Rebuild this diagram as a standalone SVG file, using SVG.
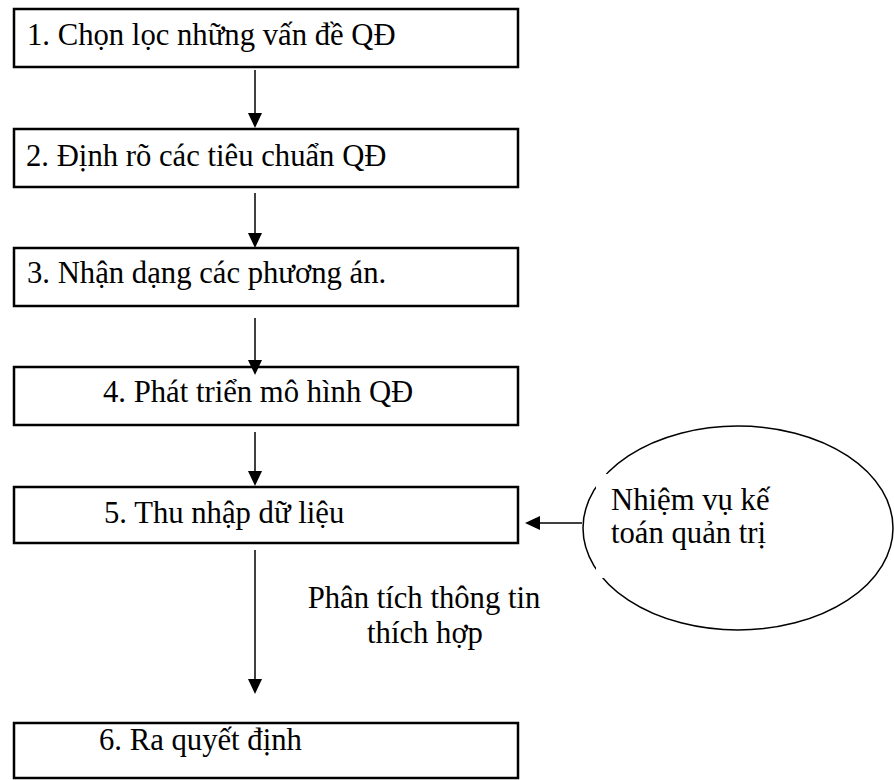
<svg xmlns="http://www.w3.org/2000/svg" width="894" height="780" viewBox="0 0 894 780">
<style>
.box{fill:#fff;stroke:#000;stroke-width:2.5}
.t{font-family:"Liberation Serif","Times New Roman",serif;font-size:30.7px;fill:#000}
.ln{stroke:#000;stroke-width:1.5;fill:none}
.ah{fill:#000}
</style>
<rect width="894" height="780" fill="#fff"/>
<g id="n1"><rect class="box" x="14" y="9" width="504" height="58"/><text class="t" x="27" y="45">1. Chọn lọc những vấn đề QĐ</text></g>
<g id="n2"><rect class="box" x="14" y="129" width="504" height="58"/><text class="t" x="26" y="166">2. Định rõ các tiêu chuẩn QĐ</text></g>
<g id="n3"><rect class="box" x="14" y="248" width="504" height="58"/><text class="t" x="27" y="283">3. Nhận dạng các phương án.</text></g>
<g id="n4"><rect class="box" x="14" y="367" width="504" height="58"/><text class="t" x="103" y="402">4. Phát triển mô hình QĐ</text></g>
<g id="n5"><rect class="box" x="14" y="487" width="504" height="56"/><text class="t" x="104" y="523">5. Thu nhập dữ liệu</text></g>
<g id="n6"><rect class="box" x="14" y="723" width="504" height="55"/><text class="t" x="99" y="750">6. Ra quyết định</text></g>
<g id="n7">
<ellipse class="ln" cx="738" cy="528" rx="155" ry="102"/>
<rect x="596" y="474" width="270" height="104" fill="#fff"/>
<text class="t" x="611" y="510">Nhiệm vụ kế</text>
<text class="t" x="611" y="543">toán quản trị</text>
</g>
<g id="connectors">
<line class="ln" x1="255" y1="70" x2="255" y2="114"/><polygon class="ah" points="248,113 262,113 255,128"/>
<line class="ln" x1="255" y1="193" x2="255" y2="234"/><polygon class="ah" points="248,233 262,233 255,248"/>
<line class="ln" x1="255" y1="318" x2="255" y2="361"/><polygon class="ah" points="248,360 262,360 255,375"/>
<line class="ln" x1="255" y1="432" x2="255" y2="472"/><polygon class="ah" points="248,471 262,471 255,486"/>
<line class="ln" x1="255" y1="550" x2="255" y2="680"/><polygon class="ah" points="248,679 262,679 255,694"/>
<line class="ln" x1="582" y1="523" x2="539" y2="523"/><polygon class="ah" points="540,516 540,530 525,523"/>
<text class="t" x="424" y="608" text-anchor="middle">Phân tích thông tin</text>
<text class="t" x="425" y="643" text-anchor="middle">thích hợp</text>
</g>
</svg>
